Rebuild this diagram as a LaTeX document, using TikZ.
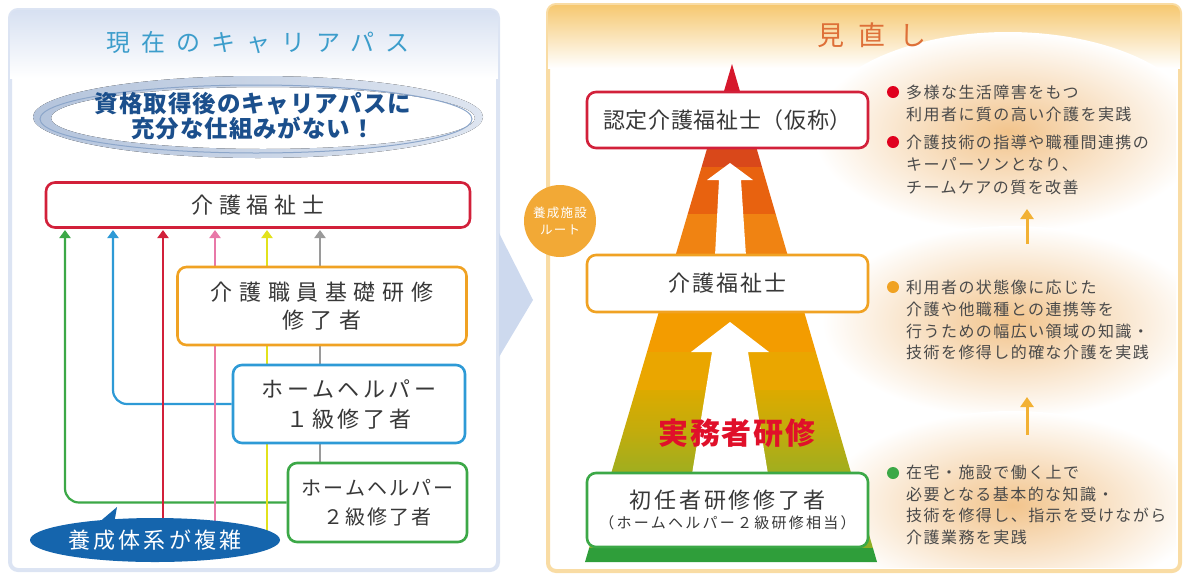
\documentclass[tikz,border=0pt]{standalone}
\usepackage{fontspec}
\setmainfont{Noto Sans CJK JP}
\usetikzlibrary{shapes.geometric,arrows.meta}
\definecolor{cRed}{HTML}{D2203A}
\definecolor{cOra}{HTML}{F0A223}
\definecolor{cBlu}{HTML}{2E9AD6}
\definecolor{cGrn}{HTML}{3CA847}
\definecolor{cPnk}{HTML}{E878A8}
\definecolor{cYel}{HTML}{E2E21C}
\definecolor{cGry}{HTML}{9A9A9A}
\definecolor{txt}{HTML}{383838}
\definecolor{rtxt}{HTML}{4A4A4A}
\definecolor{ttlL}{HTML}{3C9DCB}
\definecolor{ttlR}{HTML}{DE7038}
\definecolor{navy}{HTML}{1B4F8C}
\definecolor{callC}{HTML}{1565AD}
\definecolor{circC}{HTML}{F2A936}
\definecolor{chev}{HTML}{CDD9EE}
\definecolor{upC}{HTML}{F2B134}
\definecolor{ringA}{HTML}{B4C4DC}
\definecolor{ringB}{HTML}{DEE5F0}
\definecolor{ringL}{HTML}{8CA6CA}
\definecolor{bulR}{HTML}{E0001E}
\definecolor{jmC}{HTML}{E0102A}
\definecolor{glow}{HTML}{F2C48C}
\definecolor{tw1}{HTML}{D6172B}
\definecolor{tw2}{HTML}{D9481A}
\definecolor{tw3}{HTML}{E8620F}
\definecolor{tw4}{HTML}{F08312}
\definecolor{tw5}{HTML}{F39C00}
\definecolor{tw6}{HTML}{EAA600}
\definecolor{tw7}{HTML}{DCAA00}
\definecolor{tw8}{HTML}{C3AC0C}
\definecolor{tw9}{HTML}{9EAE20}
\definecolor{tw10}{HTML}{8FAE25}
\definecolor{tw11}{HTML}{2F9E3A}
\pgfdeclarelayer{panel}
\pgfdeclarelayer{lines}
\pgfsetlayers{panel,lines,main}
\begin{document}
\begin{tikzpicture}[x=1pt,y=-1pt,
  bx/.style={draw, line width=2.6pt, rounded corners=9pt, fill=white, align=center, inner sep=0pt, text=txt},
  ln/.style={line width=2.2pt, -{Triangle[width=11pt,length=8pt]}},
  rt/.style={anchor=west, align=left, inner sep=0pt, text=rtxt, font=\fontsize{16pt}{22.5pt}\selectfont\addfontfeature{LetterSpace=9}},
  bul/.style={circle, inner sep=0pt, minimum size=12pt},
  upar/.style={line width=3pt, draw=upC, -{Triangle[width=13pt,length=10pt]}}]
\useasboundingbox (0,0) rectangle (1185,574);

% ---------- panels ----------
\begin{pgfonlayer}{panel}
\path[fill=white, draw=chev!70, line width=4pt, rounded corners=8pt] (10,10) rectangle (498,570);
\begin{scope}
\clip[rounded corners=8pt] (10,10) rectangle (498,570);
\shade[top color=chev!80, bottom color=white] (10,10) rectangle (498,78);
\end{scope}
\fill[chev] (499,233) -- (533,300) -- (499,357) -- cycle;
\path[fill=white, draw=upC!45, line width=4pt, rounded corners=8pt] (548,5) rectangle (1180,571);
\begin{scope}
\clip[rounded corners=8pt] (548,5) rectangle (1180,571);
\shade[top color=upC!70, bottom color=white] (548,5) rectangle (1180,68);
\end{scope}
% glows
\begin{scope}
\clip (552,9) rectangle (1176,567);
\shade[inner color=glow, outer color=white] (1008,132) ellipse (195 and 100);
\shade[inner color=glow, outer color=white] (1012,322) ellipse (190 and 96);
\shade[inner color=glow, outer color=white] (1012,505) ellipse (190 and 94);
\end{scope}
% tower
\begin{scope}
\clip (732,64) -- (877,562) -- (585,562) -- cycle;
\fill[tw1] (560,60) rectangle (900,149);
\fill[tw2] (560,149) rectangle (900,167);
\fill[tw3] (560,167) rectangle (900,214);
\fill[tw4] (560,214) rectangle (900,312);
\fill[tw5] (560,312) rectangle (900,352);
\fill[tw6] (560,352) rectangle (900,390);
\shade[top color=tw7, bottom color=tw8] (560,390) rectangle (900,430);
\shade[top color=tw8, bottom color=tw9] (560,430) rectangle (900,474);
\fill[tw10] (560,474) rectangle (900,548);
\fill[tw11] (560,548) rectangle (900,566);
\end{scope}
\fill[white] (730,163) -- (753,180) -- (741,180) -- (746,256) -- (715,256) -- (719,180) -- (707,180) -- cycle;
\fill[white] (730,322) -- (769,352) -- (748,352) -- (768,474) -- (692,474) -- (712,352) -- (691,352) -- cycle;
\end{pgfonlayer}

% ---------- left panel ----------
\node[text=ttlL, font=\fontsize{24pt}{26pt}\selectfont\addfontfeature{LetterSpace=46}] (tl) at (258,42) {現在のキャリアパス};

\fill[even odd rule, left color=ringA, right color=ringB]
  (258,117) ellipse (225 and 41) (263,118) ellipse (212 and 31);
\draw[ringL, line width=1pt] (256,119) ellipse (216 and 34);
\node[align=center, text=navy, inner sep=0pt, font=\bfseries\fontsize{23.5pt}{25pt}\selectfont\addfontfeature{LetterSpace=4}] (ne) at (253,116) {資格取得後のキャリアパスに\\充分な仕組みがない！};

\node[bx, draw=cRed, minimum width=424pt, minimum height=45pt, font=\fontsize{22pt}{28pt}\selectfont\addfontfeature{LetterSpace=27}] (kf1) at (258,205) {介護福祉士};
\node[bx, draw=cOra, minimum width=289pt, minimum height=78pt, font=\fontsize{22pt}{28pt}\selectfont\addfontfeature{LetterSpace=30}] (kk) at (322,306) {介護職員基礎研修\\修了者};
\node[bx, draw=cBlu, minimum width=232pt, minimum height=78pt, font=\fontsize{22pt}{30pt}\selectfont\addfontfeature{LetterSpace=16}] (hh1) at (349,404) {ホームヘルパー\\１級修了者};
\node[bx, draw=cGrn, minimum width=179pt, minimum height=79pt, font=\fontsize{20pt}{29pt}\selectfont\addfontfeature{LetterSpace=10}] (hh2) at (377.5,502.5) {ホームヘルパー\\２級修了者};

\coordinate (tG) at (65,230);
\coordinate (tB) at (113,230);
\coordinate (tR) at (163,230);
\coordinate (tP) at (215,230);
\coordinate (tY) at (267,230);
\coordinate (tK) at (320,230);

\node[ellipse, fill=callC, text=white, inner sep=0pt, minimum width=250pt, minimum height=44pt, font=\fontsize{22pt}{26pt}\selectfont\addfontfeature{LetterSpace=14}] (fuk) at (155,540) {養成体系が複雑};
\fill[callC] (97,524) -- (117,507) -- (114,524) -- cycle;

\begin{pgfonlayer}{lines}
\draw[ln, draw=cGrn, rounded corners=14pt] (hh2.west) -| (tG);
\draw[ln, draw=cBlu, rounded corners=14pt] (hh1.west) -| (tB);
\draw[ln, draw=cRed] (fuk.center -| tR) -- (tR);
\draw[ln, draw=cPnk] (fuk.center -| tP) -- (tP);
\draw[ln, draw=cYel] (fuk.center -| tY) -- (tY);
\draw[ln, draw=cGry] (hh2.north -| tK) -- (tK);
\end{pgfonlayer}

% ---------- right panel ----------
\node[text=ttlR, font=\fontsize{27pt}{30pt}\selectfont\addfontfeature{LetterSpace=52}] (tr) at (872,35) {見直し};

\node[circle, fill=circC, text=white, inner sep=0pt, minimum size=72pt, align=center, font=\fontsize{12.5pt}{17pt}\selectfont\addfontfeature{LetterSpace=10}] (ys) at (560,221) {養成施設\\ルート};

\node[bx, draw=cRed, minimum width=281pt, minimum height=56pt, font=\fontsize{22pt}{28pt}\selectfont\addfontfeature{LetterSpace=3}] (nt) at (727.5,120) {認定介護福祉士（仮称）};
\node[bx, draw=cOra, minimum width=281pt, minimum height=57pt, font=\fontsize{22pt}{28pt}\selectfont\addfontfeature{LetterSpace=9}] (kf2) at (727.5,283.5) {介護福祉士};
\node[bx, draw=cGrn, minimum width=281pt, minimum height=74pt] (sn) at (727.5,510)
  {{\fontsize{22pt}{27pt}\selectfont\addfontfeature{LetterSpace=13}初任者研修修了者}\\[5pt]{\fontsize{15pt}{18pt}\selectfont\addfontfeature{LetterSpace=15}（ホームヘルパー２級研修相当）}};

\node[text=jmC, inner sep=0pt, font=\bfseries\fontsize{30pt}{34pt}\selectfont\addfontfeature{LetterSpace=6}] (jm) at (737,433) {実務者研修};

% right texts
\node[bul, fill=bulR] (b1) at (893,92) {};
\node[rt] (r1a) at (906,103.5) {多様な生活障害をもつ\\利用者に質の高い介護を実践};
\node[bul, fill=bulR] (b2) at (893,142) {};
\node[rt] (r1b) at (906,164.5) {介護技術の指導や職種間連携の\\キーパーソンとなり、\\チームケアの質を改善};
\coordinate (u1s) at (1027,244);
\coordinate (u1e) at (1027,209);
\draw[upar] (u1s) -- (u1e);

\node[bul, fill=cOra] (b3) at (893,287) {};
\node[rt, font=\fontsize{16pt}{21.8pt}\selectfont\addfontfeature{LetterSpace=9}] (r2) at (906,320) {利用者の状態像に応じた\\介護や他職種との連携等を\\行うための幅広い領域の知識・\\技術を修得し的確な介護を実践};
\coordinate (u2s) at (1027,435);
\coordinate (u2e) at (1027,397);
\draw[upar] (u2s) -- (u2e);

\node[bul, fill=cGrn] (b4) at (893,473) {};
\node[rt, font=\fontsize{16pt}{21.5pt}\selectfont\addfontfeature{LetterSpace=9}] (r3) at (906,505) {在宅・施設で働く上で\\必要となる基本的な知識・\\技術を修得し、指示を受けながら\\介護業務を実践};
\end{tikzpicture}
\end{document}
